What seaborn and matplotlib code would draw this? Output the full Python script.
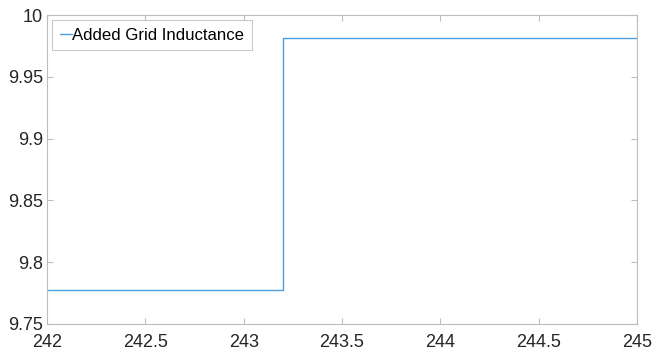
import matplotlib
matplotlib.use("Agg")
import matplotlib.pyplot as plt
import seaborn as sns
import pandas as pd
import numpy as np

# Data
time_s = [242.0, 243.2, 245.0]
inductance = [9.7775, 9.9815, 9.9815]
series_name = "Added Grid Inductance"
x_ticks = [242, 242.5, 243, 243.5, 244, 244.5, 245]
x_tick_labels = ["242", "242.5", "243", "243.5", "244", "244.5", "245"]
y_ticks = [9.75, 9.8, 9.85, 9.9, 9.95, 10]
y_tick_labels = ["9.75", "9.8", "9.85", "9.9", "9.95", "10"]

sns.set_theme(style="white")
plt.rcParams['font.family'] = ['Liberation Sans', 'DejaVu Sans']

df = pd.DataFrame({"t": time_s, "L": inductance, "s": series_name})

fig = plt.figure(figsize=(6.53, 3.52), dpi=100)
ax = fig.add_axes([47/653, 1 - 324/352, (637-47)/653, (324-15)/352])

sns.lineplot(data=df, x="t", y="L", hue="s", palette=["#4a9fdc"],
             drawstyle="steps-post", linewidth=1.0, ax=ax, legend=True)

ax.set_xlim(242, 245)
ax.set_ylim(9.75, 10)
ax.set_xticks(x_ticks)
ax.set_xticklabels(x_tick_labels)
ax.set_yticks(y_ticks)
ax.set_yticklabels(y_tick_labels)
ax.set_xlabel("")
ax.set_ylabel("")

axis_col = "#bdbdbd"
for sp in ax.spines.values():
    sp.set_color(axis_col)
    sp.set_linewidth(0.8)
    sp.set_visible(True)
ax.tick_params(direction="in", length=4, width=0.8, color=axis_col,
               labelsize=13, labelcolor="#262626", top=True, right=True,
               bottom=True, left=True)
ax.tick_params(axis="x", pad=7)
ax.tick_params(axis="y", pad=3)
for lbl in ax.get_yticklabels():
    lbl.set_va("center_baseline")

leg = ax.legend(loc="upper left", fontsize=12.1, frameon=True, fancybox=False,
                handlelength=0.75, handletextpad=0.0, borderpad=0.45,
                borderaxespad=0.3, edgecolor=axis_col)
leg.get_frame().set_linewidth(0.8)
for t in leg.get_texts():
    t.set_color("#000000")

fig.savefig("out.png", dpi=100)
